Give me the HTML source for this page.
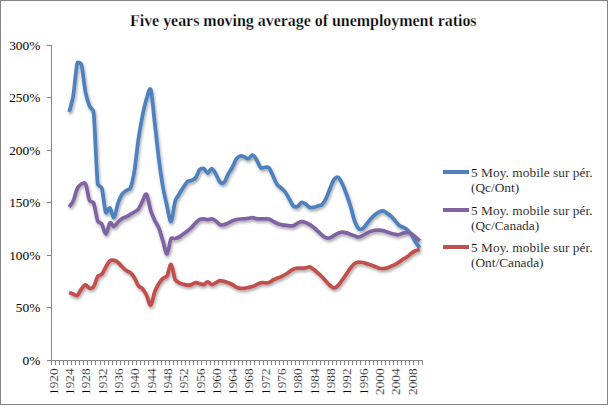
<!DOCTYPE html>
<html><head><meta charset="utf-8"><style>
html,body{margin:0;padding:0;background:#fff;}
body{width:608px;height:410px;overflow:hidden;}
svg{display:block;}
.lab{font-family:"Liberation Serif",serif;font-size:13.33px;fill:#000;}
.xl{stroke:#fff;stroke-width:0.22px;}
.lt{stroke:#fff;stroke-width:0.15px;}
.title{font-family:"Liberation Serif",serif;font-size:16px;font-weight:bold;fill:#000;stroke:#fff;stroke-width:0.25px;}
</style></head><body>
<svg width="608" height="410" viewBox="0 0 608 410">
<defs>
<filter id="sh" x="-5%" y="-5%" width="110%" height="115%">
<feGaussianBlur in="SourceAlpha" stdDeviation="1.4"/>
<feOffset dx="0.6" dy="2.3" result="b"/>
<feComponentTransfer><feFuncA type="linear" slope="0.35"/></feComponentTransfer>
<feMerge><feMergeNode/><feMergeNode in="SourceGraphic"/></feMerge>
</filter>
</defs>
<rect x="0.5" y="0.5" width="607" height="404" fill="#fff" stroke="#848484" stroke-width="1" shape-rendering="crispEdges"/>
<text x="130" y="25.8" class="title" textLength="346.6" lengthAdjust="spacing">Five years moving average of unemployment ratios</text>
<path d="M47,45.5H51.5V360.5H423 M47,45.5H51 M47,97.5H51 M47,150.5H51 M47,202.5H51 M47,255.5H51 M47,307.5H51 M47,360.5H51 M51.5,361V365 M55.5,361V365 M59.5,361V365 M63.5,361V365 M67.5,361V365 M71.5,361V365 M75.5,361V365 M79.5,361V365 M83.5,361V365 M87.5,361V365 M91.5,361V365 M95.5,361V365 M100.5,361V365 M104.5,361V365 M108.5,361V365 M112.5,361V365 M116.5,361V365 M120.5,361V365 M124.5,361V365 M128.5,361V365 M132.5,361V365 M136.5,361V365 M140.5,361V365 M144.5,361V365 M148.5,361V365 M153.5,361V365 M157.5,361V365 M161.5,361V365 M165.5,361V365 M169.5,361V365 M173.5,361V365 M177.5,361V365 M181.5,361V365 M185.5,361V365 M189.5,361V365 M193.5,361V365 M197.5,361V365 M201.5,361V365 M206.5,361V365 M210.5,361V365 M214.5,361V365 M218.5,361V365 M222.5,361V365 M226.5,361V365 M230.5,361V365 M234.5,361V365 M238.5,361V365 M242.5,361V365 M246.5,361V365 M250.5,361V365 M254.5,361V365 M259.5,361V365 M263.5,361V365 M267.5,361V365 M271.5,361V365 M275.5,361V365 M279.5,361V365 M283.5,361V365 M287.5,361V365 M291.5,361V365 M295.5,361V365 M299.5,361V365 M303.5,361V365 M307.5,361V365 M312.5,361V365 M316.5,361V365 M320.5,361V365 M324.5,361V365 M328.5,361V365 M332.5,361V365 M336.5,361V365 M340.5,361V365 M344.5,361V365 M348.5,361V365 M352.5,361V365 M356.5,361V365 M360.5,361V365 M365.5,361V365 M369.5,361V365 M373.5,361V365 M377.5,361V365 M381.5,361V365 M385.5,361V365 M389.5,361V365 M393.5,361V365 M397.5,361V365 M401.5,361V365 M405.5,361V365 M409.5,361V365 M413.5,361V365 M418.5,361V365 M422.5,361V365" stroke="#868686" stroke-width="1" fill="none" shape-rendering="crispEdges"/>
<text x="40.3" y="50.0" text-anchor="end" class="lab">300%</text>
<text x="40.3" y="102.0" text-anchor="end" class="lab">250%</text>
<text x="40.3" y="155.0" text-anchor="end" class="lab">200%</text>
<text x="40.3" y="207.0" text-anchor="end" class="lab">150%</text>
<text x="40.3" y="260.0" text-anchor="end" class="lab">100%</text>
<text x="40.3" y="312.0" text-anchor="end" class="lab">50%</text>
<text x="40.3" y="365.0" text-anchor="end" class="lab">0%</text>
<text transform="translate(57.74,368.3) rotate(-90)" text-anchor="end" class="lab xl">1920</text>
<text transform="translate(74.05,368.3) rotate(-90)" text-anchor="end" class="lab xl">1924</text>
<text transform="translate(90.35,368.3) rotate(-90)" text-anchor="end" class="lab xl">1928</text>
<text transform="translate(106.66,368.3) rotate(-90)" text-anchor="end" class="lab xl">1932</text>
<text transform="translate(122.97,368.3) rotate(-90)" text-anchor="end" class="lab xl">1936</text>
<text transform="translate(139.28,368.3) rotate(-90)" text-anchor="end" class="lab xl">1940</text>
<text transform="translate(155.59,368.3) rotate(-90)" text-anchor="end" class="lab xl">1944</text>
<text transform="translate(171.89,368.3) rotate(-90)" text-anchor="end" class="lab xl">1948</text>
<text transform="translate(188.20,368.3) rotate(-90)" text-anchor="end" class="lab xl">1952</text>
<text transform="translate(204.51,368.3) rotate(-90)" text-anchor="end" class="lab xl">1956</text>
<text transform="translate(220.82,368.3) rotate(-90)" text-anchor="end" class="lab xl">1960</text>
<text transform="translate(237.13,368.3) rotate(-90)" text-anchor="end" class="lab xl">1964</text>
<text transform="translate(253.43,368.3) rotate(-90)" text-anchor="end" class="lab xl">1968</text>
<text transform="translate(269.74,368.3) rotate(-90)" text-anchor="end" class="lab xl">1972</text>
<text transform="translate(286.05,368.3) rotate(-90)" text-anchor="end" class="lab xl">1976</text>
<text transform="translate(302.36,368.3) rotate(-90)" text-anchor="end" class="lab xl">1980</text>
<text transform="translate(318.67,368.3) rotate(-90)" text-anchor="end" class="lab xl">1984</text>
<text transform="translate(334.97,368.3) rotate(-90)" text-anchor="end" class="lab xl">1988</text>
<text transform="translate(351.28,368.3) rotate(-90)" text-anchor="end" class="lab xl">1992</text>
<text transform="translate(367.59,368.3) rotate(-90)" text-anchor="end" class="lab xl">1996</text>
<text transform="translate(383.90,368.3) rotate(-90)" text-anchor="end" class="lab xl">2000</text>
<text transform="translate(400.21,368.3) rotate(-90)" text-anchor="end" class="lab xl">2004</text>
<text transform="translate(416.51,368.3) rotate(-90)" text-anchor="end" class="lab xl">2008</text>
<g filter="url(#sh)">
<path d="M69.15,112.00 C69.83,109.33 72.32,101.43 73.22,96.00 C74.58,87.83 75.94,68.25 77.30,63.00 C77.66,61.60 80.99,63.11 81.38,64.50 C82.74,69.33 84.10,85.08 85.45,92.00 C86.39,96.77 88.17,102.67 89.53,106.00 C90.44,108.24 93.36,109.60 93.61,112.00 C94.97,125.00 96.33,171.33 97.69,184.00 C97.89,185.89 101.24,186.17 101.76,188.00 C103.12,192.75 104.48,209.17 105.84,212.50 C106.60,214.37 108.56,207.17 109.92,208.00 C111.28,208.83 112.63,218.33 113.99,217.50 C115.35,216.67 116.71,206.92 118.07,203.00 C119.15,199.89 120.79,196.08 122.15,194.00 C123.13,192.50 124.87,191.45 126.22,190.50 C127.49,189.62 129.71,189.72 130.30,188.30 C131.66,185.05 133.41,176.85 134.38,171.00 C135.74,162.78 137.10,148.25 138.46,139.00 C139.61,131.13 141.17,122.25 142.53,115.50 C143.68,109.79 145.25,102.83 146.61,98.50 C147.60,95.36 149.65,86.38 150.69,89.50 C152.05,93.58 153.45,111.83 154.76,123.00 C156.12,134.58 157.48,148.33 158.84,159.00 C160.03,168.36 161.56,179.17 162.92,187.00 C164.02,193.38 165.64,200.25 166.99,206.00 C168.22,211.20 169.71,222.33 171.07,221.50 C172.43,220.67 173.79,205.58 175.15,201.00 C175.92,198.41 177.87,196.27 179.23,194.00 C180.56,191.78 181.94,189.47 183.30,187.40 C184.60,185.43 186.02,182.75 187.38,181.60 C188.45,180.69 190.17,181.07 191.46,180.50 C192.82,179.90 194.57,179.27 195.53,178.00 C196.89,176.22 198.25,171.37 199.61,169.80 C200.54,168.73 202.37,168.08 203.69,168.60 C205.05,169.13 206.41,173.00 207.76,173.00 C209.12,173.00 210.48,168.40 211.84,168.60 C213.20,168.80 214.72,172.22 215.92,174.20 C217.28,176.45 218.64,180.70 220.00,182.10 C220.95,183.08 223.10,183.56 224.07,182.60 C225.43,181.25 226.79,176.52 228.15,174.00 C229.36,171.75 231.01,169.75 232.23,167.50 C233.59,165.00 234.94,160.92 236.30,159.00 C237.28,157.62 239.02,156.33 240.38,156.00 C241.74,155.67 243.13,156.56 244.46,157.00 C245.82,157.45 247.18,159.03 248.53,158.70 C249.89,158.37 251.25,154.78 252.61,155.00 C253.97,155.22 255.53,158.19 256.69,160.00 C258.05,162.13 259.41,166.58 260.77,167.80 C261.79,168.71 263.48,167.30 264.84,167.30 C266.20,167.30 267.98,166.80 268.92,167.80 C270.28,169.25 271.66,173.26 273.00,176.00 C274.36,178.78 275.71,182.50 277.07,184.50 C278.08,185.98 279.83,186.79 281.15,188.00 C282.51,189.25 284.09,190.47 285.23,192.00 C286.59,193.83 287.95,196.67 289.30,199.00 C290.66,201.33 292.02,204.75 293.38,206.00 C294.39,206.93 296.20,207.04 297.46,206.50 C298.82,205.92 300.18,202.92 301.54,202.50 C302.89,202.08 304.38,203.24 305.61,204.00 C306.97,204.83 308.33,206.95 309.69,207.50 C310.95,208.01 312.43,207.55 313.77,207.30 C315.13,207.05 316.49,206.45 317.84,206.00 C319.20,205.55 320.86,205.57 321.92,204.60 C323.28,203.37 324.92,200.76 326.00,198.60 C327.36,195.88 328.72,191.50 330.07,188.30 C331.35,185.30 332.79,181.22 334.15,179.40 C335.06,178.19 336.90,176.68 338.23,177.40 C339.59,178.13 341.19,181.53 342.31,183.80 C343.66,186.57 345.12,190.56 346.38,194.00 C347.74,197.70 349.23,201.96 350.46,206.00 C351.82,210.45 353.18,216.93 354.54,220.70 C355.54,223.49 357.25,227.28 358.61,228.60 C359.59,229.55 361.53,229.30 362.69,228.60 C364.05,227.78 365.41,225.33 366.77,223.70 C368.13,222.07 369.49,220.28 370.84,218.80 C372.13,217.40 373.56,215.93 374.92,214.80 C376.19,213.74 377.64,212.65 379.00,212.00 C380.27,211.39 381.72,210.68 383.08,210.90 C384.43,211.12 385.84,212.43 387.15,213.30 C388.51,214.20 390.00,215.14 391.23,216.30 C392.59,217.58 393.95,219.47 395.31,221.00 C396.65,222.51 398.02,224.42 399.38,225.50 C400.57,226.44 402.14,226.76 403.46,227.50 C404.82,228.27 406.37,228.99 407.54,230.10 C408.90,231.38 410.40,233.40 411.61,235.20 C412.97,237.22 414.33,240.10 415.69,242.20 C416.95,244.14 419.09,246.87 419.77,247.80" stroke="#4F81BD" stroke-width="3.75" fill="none" stroke-linejoin="round" stroke-linecap="butt"/>
<path d="M69.15,207.00 C69.83,206.00 72.25,203.21 73.22,201.00 C74.58,197.92 75.94,191.33 77.30,188.50 C78.18,186.67 80.02,184.83 81.38,184.00 C82.54,183.28 84.85,182.27 85.45,183.50 C86.81,186.25 88.17,197.25 89.53,200.50 C90.15,201.97 93.02,201.52 93.61,203.00 C94.97,206.42 96.33,217.50 97.69,221.00 C98.30,222.57 100.87,222.57 101.76,224.00 C103.12,226.17 104.48,234.17 105.84,234.00 C107.20,233.83 108.56,224.25 109.92,223.00 C111.23,221.79 112.63,226.67 113.99,226.50 C115.35,226.33 116.71,223.33 118.07,222.00 C119.35,220.75 120.79,219.37 122.15,218.50 C123.39,217.71 124.92,217.47 126.22,216.80 C127.58,216.10 128.94,215.10 130.30,214.30 C131.65,213.51 133.07,212.85 134.38,212.00 C135.74,211.12 137.45,210.36 138.46,209.00 C139.81,207.17 141.17,203.42 142.53,201.00 C143.79,198.77 145.25,192.92 146.61,194.50 C147.97,196.08 149.33,206.17 150.69,210.50 C151.76,213.93 153.40,217.58 154.76,220.50 C155.97,223.08 157.79,225.36 158.84,228.00 C160.20,231.42 161.56,236.67 162.92,241.00 C164.28,245.33 165.64,254.42 166.99,254.00 C168.35,253.58 169.71,241.08 171.07,238.50 C171.70,237.30 173.81,238.75 175.15,238.50 C176.51,238.25 177.96,237.70 179.23,237.00 C180.58,236.25 181.94,235.00 183.30,234.00 C184.66,233.00 186.06,232.05 187.38,231.00 C188.74,229.92 190.18,228.75 191.46,227.50 C192.82,226.17 194.17,224.33 195.53,223.00 C196.81,221.75 198.25,220.20 199.61,219.50 C200.84,218.87 202.33,218.77 203.69,218.80 C205.05,218.83 206.41,219.70 207.76,219.70 C209.12,219.70 210.48,218.60 211.84,218.80 C213.20,219.00 214.68,220.00 215.92,220.90 C217.28,221.88 218.64,224.07 220.00,224.70 C221.23,225.27 222.75,224.99 224.07,224.70 C225.43,224.40 226.80,223.53 228.15,222.90 C229.51,222.27 230.87,221.43 232.23,220.90 C233.55,220.38 234.94,220.02 236.30,219.70 C237.65,219.39 239.02,219.15 240.38,219.00 C241.73,218.85 243.10,218.92 244.46,218.80 C245.82,218.68 247.18,218.50 248.53,218.30 C249.89,218.10 251.25,217.52 252.61,217.60 C253.97,217.68 255.33,218.60 256.69,218.80 C258.03,219.00 259.41,218.80 260.77,218.80 C262.12,218.80 263.48,218.77 264.84,218.80 C266.20,218.83 267.62,218.60 268.92,219.00 C270.28,219.42 271.64,220.55 273.00,221.30 C274.35,222.05 275.71,222.95 277.07,223.50 C278.38,224.03 279.79,224.32 281.15,224.60 C282.50,224.88 283.87,225.00 285.23,225.20 C286.59,225.40 287.95,225.72 289.30,225.80 C290.66,225.88 292.08,226.10 293.38,225.70 C294.74,225.28 296.10,223.97 297.46,223.30 C298.77,222.66 300.18,221.82 301.54,221.70 C302.89,221.58 304.31,222.12 305.61,222.60 C306.97,223.10 308.38,223.91 309.69,224.70 C311.05,225.52 312.48,226.47 313.77,227.50 C315.13,228.58 316.49,229.96 317.84,231.20 C319.20,232.45 320.56,233.90 321.92,235.00 C323.20,236.04 324.64,237.33 326.00,237.80 C327.28,238.24 328.77,238.17 330.07,237.80 C331.43,237.42 332.79,236.27 334.15,235.50 C335.51,234.73 336.87,233.75 338.23,233.20 C339.53,232.68 340.95,232.25 342.31,232.20 C343.66,232.15 345.05,232.54 346.38,232.90 C347.74,233.27 349.10,233.92 350.46,234.40 C351.81,234.88 353.18,235.37 354.54,235.80 C355.89,236.23 357.25,237.05 358.61,237.00 C359.97,236.95 361.38,236.11 362.69,235.50 C364.05,234.87 365.41,233.90 366.77,233.20 C368.10,232.51 369.49,231.77 370.84,231.30 C372.16,230.85 373.56,230.58 374.92,230.40 C376.27,230.22 377.64,230.17 379.00,230.20 C380.36,230.23 381.74,230.31 383.08,230.60 C384.43,230.90 385.80,231.52 387.15,232.00 C388.51,232.48 389.87,233.10 391.23,233.50 C392.56,233.89 393.95,234.23 395.31,234.40 C396.66,234.57 398.04,234.73 399.38,234.50 C400.74,234.27 402.10,233.32 403.46,233.00 C404.79,232.69 406.18,232.47 407.54,232.60 C408.90,232.73 410.38,233.10 411.61,233.80 C412.97,234.57 414.37,236.03 415.69,237.20 C417.05,238.40 419.09,240.37 419.77,241.00" stroke="#8064A2" stroke-width="3.75" fill="none" stroke-linejoin="round" stroke-linecap="butt"/>
<path d="M69.15,292.50 C69.83,292.75 71.86,293.50 73.22,294.00 C74.58,294.50 76.07,296.26 77.30,295.50 C78.66,294.67 80.02,290.78 81.38,289.00 C82.56,287.45 84.10,284.93 85.45,284.80 C86.81,284.67 88.17,287.88 89.53,288.20 C90.89,288.52 92.78,287.89 93.61,286.70 C94.97,284.75 96.33,278.57 97.69,276.50 C98.53,275.21 100.76,275.47 101.76,274.30 C103.12,272.72 104.48,269.25 105.84,267.00 C107.12,264.88 108.56,261.90 109.92,260.80 C110.98,259.94 112.65,260.14 113.99,260.40 C115.35,260.67 116.88,261.47 118.07,262.40 C119.43,263.47 120.79,265.45 122.15,266.80 C123.45,268.09 124.87,269.52 126.22,270.50 C127.48,271.41 129.15,271.67 130.30,272.70 C131.66,273.92 133.23,275.95 134.38,277.80 C135.74,280.00 137.10,284.07 138.46,285.90 C139.45,287.24 141.45,287.53 142.53,288.80 C143.89,290.38 145.46,293.08 146.61,295.40 C147.97,298.13 149.33,305.82 150.69,305.20 C152.05,304.58 153.40,295.33 154.76,291.70 C155.84,288.81 157.48,285.60 158.84,283.40 C159.96,281.59 161.56,279.73 162.92,278.50 C164.10,277.43 166.20,277.38 166.99,276.00 C168.35,273.65 169.71,263.80 171.07,264.40 C172.43,265.00 173.79,276.53 175.15,279.60 C175.85,281.18 177.87,282.03 179.23,282.80 C180.48,283.51 181.94,283.82 183.30,284.20 C184.64,284.58 186.02,285.03 187.38,285.10 C188.74,285.17 190.15,285.00 191.46,284.60 C192.82,284.18 194.17,282.77 195.53,282.60 C196.89,282.43 198.25,283.27 199.61,283.60 C200.97,283.93 202.33,284.90 203.69,284.60 C205.05,284.30 206.41,281.80 207.76,281.80 C209.12,281.80 210.48,284.47 211.84,284.60 C213.20,284.73 214.56,283.27 215.92,282.60 C217.28,281.93 218.64,280.80 220.00,280.60 C221.35,280.40 222.73,281.05 224.07,281.40 C225.43,281.75 226.82,282.19 228.15,282.70 C229.51,283.22 230.93,283.78 232.23,284.50 C233.59,285.25 234.94,286.57 236.30,287.20 C237.58,287.79 239.02,288.12 240.38,288.30 C241.73,288.48 243.11,288.45 244.46,288.30 C245.82,288.15 247.18,287.68 248.53,287.40 C249.89,287.12 251.30,287.05 252.61,286.60 C253.97,286.13 255.33,285.23 256.69,284.60 C258.04,283.97 259.41,283.10 260.77,282.80 C262.09,282.51 263.48,282.83 264.84,282.80 C266.20,282.77 267.63,283.04 268.92,282.60 C270.28,282.13 271.64,280.72 273.00,280.00 C274.30,279.31 275.71,278.85 277.07,278.30 C278.43,277.75 279.83,277.32 281.15,276.70 C282.51,276.07 283.91,275.31 285.23,274.50 C286.59,273.67 287.95,272.58 289.30,271.70 C290.64,270.83 292.02,269.78 293.38,269.20 C294.67,268.65 296.10,268.37 297.46,268.20 C298.81,268.03 300.18,268.25 301.54,268.20 C302.89,268.15 304.27,268.13 305.61,267.90 C306.97,267.67 308.33,266.52 309.69,266.80 C311.05,267.08 312.45,268.60 313.77,269.60 C315.13,270.63 316.51,271.84 317.84,273.00 C319.20,274.18 320.63,275.39 321.92,276.70 C323.28,278.08 324.64,279.83 326.00,281.30 C327.32,282.73 328.72,284.38 330.07,285.50 C331.31,286.51 332.79,288.03 334.15,288.00 C335.51,287.97 337.06,286.44 338.23,285.30 C339.59,283.97 340.99,281.80 342.31,280.00 C343.66,278.13 345.02,276.07 346.38,274.10 C347.74,272.13 349.10,269.95 350.46,268.20 C351.72,266.58 353.18,264.60 354.54,263.60 C355.69,262.75 357.25,262.38 358.61,262.20 C359.96,262.02 361.35,262.27 362.69,262.50 C364.05,262.73 365.42,263.20 366.77,263.60 C368.13,264.00 369.50,264.44 370.84,264.90 C372.20,265.37 373.58,265.86 374.92,266.40 C376.28,266.95 377.64,267.83 379.00,268.20 C380.32,268.56 381.72,268.65 383.08,268.60 C384.43,268.55 385.83,268.29 387.15,267.90 C388.51,267.50 389.88,266.79 391.23,266.20 C392.59,265.60 393.98,265.00 395.31,264.30 C396.67,263.58 398.07,262.77 399.38,261.90 C400.74,261.00 402.10,259.80 403.46,258.90 C404.78,258.03 406.25,257.41 407.54,256.50 C408.90,255.53 410.26,254.05 411.61,253.10 C412.89,252.21 414.33,251.40 415.69,250.80 C417.00,250.22 419.09,249.72 419.77,249.50" stroke="#C0504D" stroke-width="3.75" fill="none" stroke-linejoin="round" stroke-linecap="butt"/>
</g>
<rect x="443" y="170" width="26" height="4" fill="#4F81BD"/>
<text x="471" y="176.8" class="lab lt" textLength="121.6" lengthAdjust="spacing">5 Moy. mobile sur pér.</text>
<text x="471" y="191.9" class="lab lt">(Qc/Ont)</text>
<rect x="443" y="208" width="26" height="4" fill="#8064A2"/>
<text x="471" y="214.8" class="lab lt" textLength="121.6" lengthAdjust="spacing">5 Moy. mobile sur pér.</text>
<text x="471" y="229.9" class="lab lt">(Qc/Canada)</text>
<rect x="443" y="245" width="26" height="4" fill="#C0504D"/>
<text x="471" y="251.8" class="lab lt" textLength="121.6" lengthAdjust="spacing">5 Moy. mobile sur pér.</text>
<text x="471" y="266.9" class="lab lt">(Ont/Canada)</text>
</svg>
</body></html>
